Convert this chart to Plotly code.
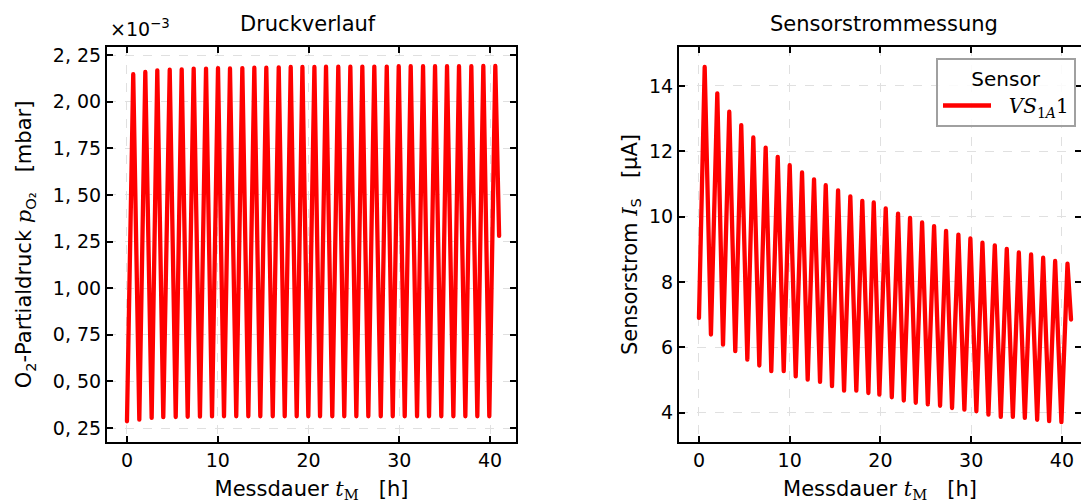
import plotly.graph_objects as go

# ---------------- data ----------------
# Left panel: O2 partial pressure, values in units of 1e-3 mbar
p_start_t, p_start_v = 0.0, 0.286
p_peak_t = [0.69, 2.02, 3.34, 4.71, 6.03, 7.35, 8.71, 10.03, 11.35, 12.71, 14.03, 15.35,
            16.72, 18.04, 19.33, 20.65, 21.93, 23.28, 24.61, 25.93, 27.25, 28.62, 29.94,
            31.26, 32.62, 33.94, 35.26, 36.58, 37.94, 39.26, 40.58]
p_peak_v = [2.147, 2.159, 2.168, 2.171, 2.173, 2.177, 2.177, 2.180, 2.178, 2.180, 2.182, 2.182,
            2.184, 2.186, 2.186, 2.186, 2.187, 2.187, 2.187, 2.188, 2.188, 2.188, 2.190,
            2.190, 2.190, 2.190, 2.190, 2.190, 2.190, 2.191, 2.191]
p_trough_t = [1.36, 2.72, 4.00, 5.37, 6.69, 8.04, 9.37, 10.69, 12.04, 13.37, 14.69, 16.06,
              17.38, 18.70, 19.98, 21.27, 22.62, 23.94, 25.27, 26.59, 27.96, 29.28, 30.60,
              31.96, 33.28, 34.63, 35.96, 37.28, 38.60, 39.92]
p_trough_v = [0.295, 0.304, 0.308, 0.309, 0.310, 0.311, 0.312, 0.313, 0.313, 0.313, 0.313, 0.313,
              0.313, 0.313, 0.313, 0.313, 0.313, 0.313, 0.313, 0.313, 0.313, 0.313, 0.313,
              0.313, 0.313, 0.313, 0.313, 0.313, 0.313, 0.313]
p_end_t, p_end_v = 41.0, 1.28

# Right panel: sensor current in µA
i_start_t, i_start_v = 0.0, 6.90
i_peak_t = [0.63, 2.02, 3.34, 4.66, 5.99, 7.35, 8.68, 10.00, 11.36, 12.68, 13.97, 15.33,
            16.68, 18.00, 19.26, 20.58, 21.94, 23.26, 24.59, 25.91, 27.23, 28.59, 29.91,
            31.24, 32.60, 33.92, 35.25, 36.60, 37.93, 39.25, 40.61]
i_peak_v = [14.58, 13.77, 13.21, 12.80, 12.42, 12.11, 11.83, 11.57, 11.35, 11.14, 10.96, 10.80,
            10.62, 10.48, 10.43, 10.25, 10.09, 9.96, 9.82, 9.71, 9.56, 9.45, 9.33,
            9.20, 9.12, 9.01, 8.90, 8.84, 8.74, 8.64, 8.56]
i_trough_t = [1.32, 2.65, 4.00, 5.33, 6.65, 7.97, 9.34, 10.66, 11.98, 13.34, 14.66, 15.99,
              17.34, 18.67, 19.88, 21.25, 22.57, 23.89, 25.22, 26.57, 27.89, 29.25, 30.57,
              31.90, 33.26, 34.59, 35.91, 37.27, 38.59, 39.94]
i_trough_v = [6.39, 6.08, 5.88, 5.62, 5.44, 5.27, 5.27, 5.11, 5.01, 4.94, 4.81, 4.67,
              4.67, 4.60, 4.55, 4.47, 4.37, 4.30, 4.25, 4.21, 4.14, 4.09, 4.04,
              3.94, 3.87, 3.87, 3.84, 3.78, 3.74, 3.71]
i_end_t, i_end_v = 41.0, 6.85

x_ticks = [0, 10, 20, 30, 40]
p_ticks = [0.25, 0.50, 0.75, 1.00, 1.25, 1.50, 1.75, 2.00, 2.25]
p_ticktext = ["0, 25", "0, 50", "0, 75", "1, 00", "1, 25", "1, 50", "1, 75", "2, 00", "2, 25"]
i_ticks = [4, 6, 8, 10, 12, 14]


def interleave(t0, v0, pt, pv, tt, tv, t1, v1):
    ts, vs = [t0], [v0]
    for k in range(len(pt)):
        ts.append(pt[k]); vs.append(pv[k])
        if k < len(tt):
            ts.append(tt[k]); vs.append(tv[k])
    ts.append(t1); vs.append(v1)
    return ts, vs


p_t, p_v = interleave(p_start_t, p_start_v, p_peak_t, p_peak_v, p_trough_t, p_trough_v, p_end_t, p_end_v)
i_t, i_v = interleave(i_start_t, i_start_v, i_peak_t, i_peak_v, i_trough_t, i_trough_v, i_end_t, i_end_v)

# ---------------- figure ----------------
W, H = 1081, 503
ML, MR, MT, MB = 107, 0, 47, 61
PW = W - ML - MR
PH = H - MT - MB


def px2paper_x(px):
    return (px - ML) / PW


def px2paper_y(py):
    return 1 - (py - MT) / PH


FONT = "DejaVu Sans"
SERIF = "DejaVu Serif"
NB = "\u00a0"

fig = go.Figure()
fig.add_trace(go.Scatter(x=p_t, y=p_v, mode="lines",
                         line=dict(color="#ff0000", width=4.3, shape="linear"),
                         showlegend=False, xaxis="x", yaxis="y"))
fig.add_trace(go.Scatter(x=i_t, y=i_v, mode="lines",
                         line=dict(color="#ff0000", width=4.3, shape="linear"),
                         name=(f"{NB}{NB}<span style=\"font-family:'{SERIF}'\"><i>VS</i><sub>1<i>A</i></sub>1</span>"),
                         showlegend=True, xaxis="x2", yaxis="y2"))
# carrier for the right-hand tick marks of the right panel (no spine there in the reference)
fig.add_trace(go.Scatter(x=[], y=[], mode="lines", showlegend=False, hoverinfo="skip",
                         xaxis="x2", yaxis="y3"))

axis_common = dict(showline=True, linewidth=2, linecolor="black",
                   ticks="inside", ticklen=6, tickwidth=1.5, tickcolor="black",
                   showgrid=True, gridcolor="#e0e0e0", griddash="dash", gridwidth=1.2,
                   zeroline=False, tickfont=dict(size=19, color="black", family=FONT))

xlabel = (f"Messdauer <span style=\"font-family:'{SERIF}'\"><i>t</i><sub>M</sub></span>"
          f"{NB}{NB}{NB}[h]")

fig.update_layout(
    width=W, height=H, autosize=False,
    margin=dict(l=ML, r=MR, t=MT, b=MB, pad=0, autoexpand=False),
    paper_bgcolor="white", plot_bgcolor="white",
    font=dict(family=FONT, size=21, color="black"),
    xaxis=dict(domain=[0, px2paper_x(516)], range=[-2.2, 42.86], tickvals=x_ticks,
               anchor="y", mirror="ticks",
               title=dict(text=xlabel, standoff=12, font=dict(size=21)), **axis_common),
    yaxis=dict(domain=[0, 1], range=[0.175, 2.293], tickvals=p_ticks, ticktext=p_ticktext,
               anchor="x", mirror="ticks",
               title=dict(text=(f"O<sub>2</sub>-Partialdruck <span style=\"font-family:'{SERIF}'\"><i>p</i></span>"
                                f"<sub>O₂</sub>{NB}{NB}{NB}[mbar]"), standoff=15, font=dict(size=21)),
               **axis_common),
    xaxis2=dict(domain=[px2paper_x(679), 1], range=[-2.2, 42.1], tickvals=x_ticks,
                anchor="y2", mirror="ticks",
                title=dict(text=xlabel, standoff=12, font=dict(size=21)), **axis_common),
    yaxis2=dict(domain=[0, 1], range=[3.10, 15.19], tickvals=i_ticks, anchor="x2", mirror=False,
                title=dict(text=(f"Sensorstrom <span style=\"font-family:'{SERIF}'\"><i>I</i></span>"
                                 f"<sub>S</sub>{NB}{NB}{NB}[µA]"), standoff=6, font=dict(size=21)),
                **axis_common),
    yaxis3=dict(overlaying="y2", side="right", anchor="x2", range=[3.10, 15.19], tickvals=i_ticks,
                ticks="inside", ticklen=6, tickwidth=1.5, tickcolor="black",
                showticklabels=False, showline=False, showgrid=False, zeroline=False),
    legend=dict(x=px2paper_x(936), y=px2paper_y(58), xanchor="left", yanchor="top",
                bgcolor="rgba(255,255,255,0.85)", bordercolor="#a0a0a0", borderwidth=2,
                font=dict(size=20, family=FONT), itemwidth=48, tracegroupgap=0,
                title=dict(text="Sensor", side="top center", font=dict(size=20))),
    annotations=[
        dict(text="Druckverlauf", x=px2paper_x(308), y=px2paper_y(24), xref="paper", yref="paper",
             showarrow=False, xanchor="center", yanchor="middle", font=dict(size=21)),
        dict(text="Sensorstrommessung", x=px2paper_x(884), y=px2paper_y(24), xref="paper", yref="paper",
             showarrow=False, xanchor="center", yanchor="middle", font=dict(size=21)),
        dict(text="×10<sup>−3</sup>", x=px2paper_x(108), y=px2paper_y(28), xref="paper", yref="paper",
             showarrow=False, xanchor="left", yanchor="middle", font=dict(size=19)),
    ],
)

round_joins = ("document.querySelectorAll('.scatterlayer path.js-line').forEach(function(p){"
               "p.style.strokeLinejoin='round';p.style.strokeLinecap='round';});")

fig.write_html("out.html", post_script=round_joins)
